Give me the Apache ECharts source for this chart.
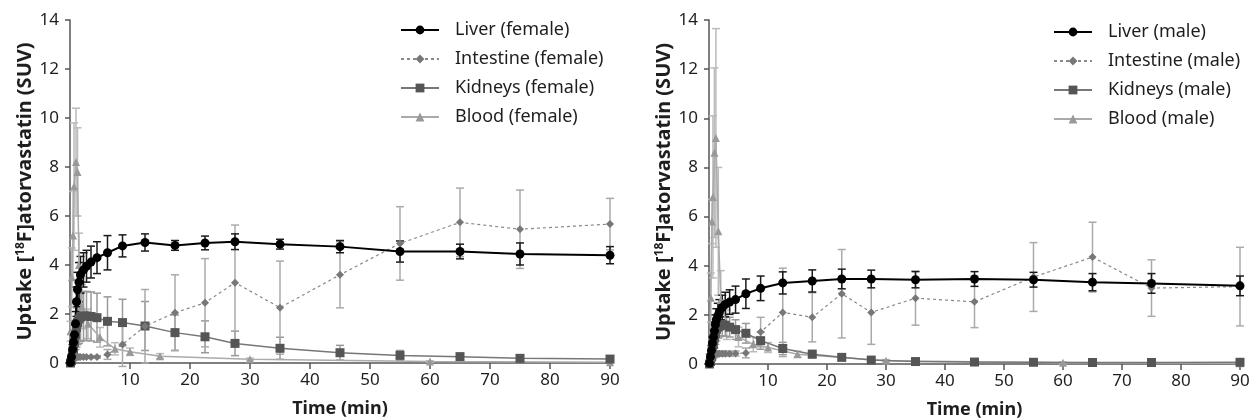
<!DOCTYPE html>
<html>
<head>
<meta charset="utf-8">
<script src="https://cdn.jsdelivr.net/npm/echarts@6/dist/echarts.min.js"></script>
<style>
html,body{margin:0;padding:0;background:#fff;}
#chart{width:1254px;height:419px;}
</style>
</head>
<body>
<div id="chart"></div>
<script>
// Frame mid-times (min) for organ curves
const organTimes = [0.08, 0.25, 0.42, 0.58, 0.75, 0.92, 1.08, 1.25, 1.5, 1.75, 2.25, 2.75, 3.5, 4.5, 6.25, 8.75, 12.5, 17.5, 22.5, 27.5, 35, 45, 55, 65, 75, 90];

// Female
const liverF      = [0.02, 0.25, 0.55, 0.85, 1.15, 1.6, 2.5, 3.0, 3.3, 3.6, 3.8, 3.95, 4.12, 4.3, 4.5, 4.78, 4.92, 4.8, 4.9, 4.95, 4.85, 4.75, 4.55, 4.55, 4.45, 4.4];
const liverFErr   = [0.05, 0.1, 0.2, 0.3, 0.4, 0.5, 0.6, 0.7, 0.8, 0.75, 0.7, 0.65, 0.65, 0.65, 0.7, 0.45, 0.35, 0.2, 0.28, 0.32, 0.2, 0.25, 0.43, 0.3, 0.45, 0.35];
const intestineF    = [0.0, 0.05, 0.1, 0.15, 0.2, 0.22, 0.24, 0.25, 0.25, 0.25, 0.25, 0.25, 0.24, 0.25, 0.35, 0.76, 1.5, 2.05, 2.46, 3.28, 2.26, 3.6, 4.88, 5.74, 5.46, 5.67];
const intestineFErr = [0.02, 0.03, 0.05, 0.05, 0.05, 0.05, 0.05, 0.05, 0.05, 0.05, 0.05, 0.05, 0.05, 0.05, 0.2, 0.9, 1.5, 1.55, 1.8, 2.35, 1.9, 1.35, 1.5, 1.4, 1.6, 1.05];
const kidneysF    = [0.0, 0.1, 0.3, 0.55, 0.85, 1.15, 1.45, 1.65, 1.8, 1.88, 1.92, 1.92, 1.9, 1.85, 1.7, 1.65, 1.51, 1.24, 1.07, 0.8, 0.6, 0.42, 0.31, 0.26, 0.19, 0.16];
const kidneysFErr = [0.05, 0.1, 0.2, 0.3, 0.5, 0.6, 0.8, 0.9, 1.0, 1.0, 1.0, 1.0, 1.0, 1.0, 1.0, 0.95, 1.0, 0.72, 0.65, 0.5, 0.45, 0.3, 0.2, 0.12, 0.1, 0.1];
const bloodTimesF = [0.08, 0.3, 0.5, 0.67, 1.0, 1.25, 1.5, 2.0, 3.0, 5, 7.5, 10, 15, 30, 60, 90];
const bloodF      = [1.3, 3.5, 5.2, 7.2, 8.2, 7.8, 4.0, 2.3, 1.6, 1.05, 0.58, 0.46, 0.28, 0.15, 0.06, 0.03];
const bloodFErr   = [0.4, 1.2, 1.8, 2.6, 2.2, 1.8, 1.3, 0.9, 0.6, 0.4, 0.25, 0.15, 0.1, 0.05, 0.03, 0.02];

// Male
const liverM      = [0.03, 0.3, 0.55, 0.85, 1.1, 1.35, 1.6, 1.8, 1.97, 2.12, 2.3, 2.42, 2.52, 2.62, 2.86, 3.08, 3.3, 3.38, 3.46, 3.46, 3.43, 3.46, 3.43, 3.33, 3.28, 3.18];
const liverMErr   = [0.05, 0.1, 0.2, 0.25, 0.3, 0.35, 0.4, 0.45, 0.5, 0.5, 0.5, 0.5, 0.5, 0.55, 0.6, 0.5, 0.45, 0.45, 0.4, 0.36, 0.33, 0.3, 0.3, 0.35, 0.4, 0.4];
const intestineM    = [0.0, 0.05, 0.15, 0.25, 0.33, 0.38, 0.4, 0.42, 0.42, 0.42, 0.42, 0.42, 0.42, 0.43, 0.45, 1.3, 2.1, 1.9, 2.86, 2.1, 2.68, 2.53, 3.54, 4.35, 3.09, 3.15];
const intestineMErr = [0.02, 0.03, 0.05, 0.08, 0.1, 0.1, 0.1, 0.1, 0.1, 0.1, 0.1, 0.1, 0.1, 0.1, 0.2, 0.6, 1.8, 1.0, 1.8, 1.3, 1.1, 1.05, 1.4, 1.42, 1.15, 1.6];
const kidneysM    = [0.0, 0.1, 0.3, 0.55, 0.8, 1.05, 1.25, 1.4, 1.5, 1.55, 1.6, 1.58, 1.5, 1.4, 1.25, 0.95, 0.63, 0.4, 0.27, 0.16, 0.1, 0.08, 0.07, 0.06, 0.06, 0.07];
const kidneysMErr = [0.05, 0.1, 0.2, 0.3, 0.35, 0.4, 0.45, 0.45, 0.45, 0.45, 0.45, 0.45, 0.4, 0.4, 0.4, 0.35, 0.25, 0.15, 0.1, 0.05, 0.05, 0.04, 0.04, 0.03, 0.03, 0.03];
const bloodTimesM = [0.08, 0.3, 0.5, 0.67, 0.92, 1.17, 1.58, 2.0, 3.0, 5, 7.5, 10, 15, 30, 60, 90];
const bloodM      = [0.2, 2.7, 5.8, 6.8, 8.6, 9.2, 5.4, 2.6, 1.6, 1.1, 0.8, 0.67, 0.4, 0.13, 0.05, 0.03];
const bloodMErr   = [0.2, 1.0, 0.9, 3.3, 3.45, 4.45, 2.6, 1.2, 0.6, 0.4, 0.3, 0.2, 0.12, 0.05, 0.03, 0.02];

const xTicks = [10, 20, 30, 40, 50, 60, 70, 80, 90];
const yTicks = [0, 2, 4, 6, 8, 10, 12, 14];

const legendF = ['Liver (female)', 'Intestine (female)', 'Kidneys (female)', 'Blood (female)'];
const legendM = ['Liver (male)', 'Intestine (male)', 'Kidneys (male)', 'Blood (male)'];

const FONT = 'Noto Sans';
const TXT = '#1e1e1e';

function pts(t, v) { return t.map((x, i) => [x, v[i]]); }
function errPts(t, v, e) { return t.map((x, i) => [x, v[i] - e[i], v[i] + e[i]]); }

function errSeries(name, gi, data, color, w) {
  return {
    type: 'custom', name: name, xAxisIndex: gi, yAxisIndex: gi,
    data: data, encode: { x: 0, y: [1, 2] }, silent: true, clip: false,
    renderItem: function (params, api) {
      const x = api.value(0), lo = api.value(1), hi = api.value(2);
      const a = api.coord([x, hi]), b = api.coord([x, lo]);
      const h = 4;
      const st = { stroke: color, lineWidth: w };
      return { type: 'group', children: [
        { type: 'line', shape: { x1: a[0], y1: a[1], x2: b[0], y2: b[1] }, style: st },
        { type: 'line', shape: { x1: a[0] - h, y1: a[1], x2: a[0] + h, y2: a[1] }, style: st },
        { type: 'line', shape: { x1: b[0] - h, y1: b[1], x2: b[0] + h, y2: b[1] }, style: st }
      ]};
    }
  };
}

const styles = {
  liver:     { symbol: 'circle',   size: 9,  color: '#000', line: { color: '#000', width: 2 }, err: '#1a1a1a', ew: 1.5 },
  intestine: { symbol: 'diamond',  size: 8,  color: '#777', line: { color: '#888', width: 1.2, type: [3, 3] }, err: '#aaa', ew: 1.5 },
  kidneys:   { symbol: 'rect',     size: 9,  color: '#555', line: { color: '#777', width: 1.5 }, err: '#999', ew: 1.5 },
  blood:     { symbol: 'triangle', size: 8,  color: '#999', line: { color: '#aaa', width: 1.5 }, err: '#bbb', ew: 1.5 }
};

function lineSeries(name, gi, data, s) {
  return {
    type: 'line', name: name, xAxisIndex: gi, yAxisIndex: gi, data: data,
    symbol: s.symbol, symbolSize: s.size, showAllSymbol: true,
    itemStyle: { color: s.color },
    lineStyle: s.line, emphasis: { disabled: true }
  };
}

function xAxis(gi) {
  return {
    type: 'value', gridIndex: gi, min: 0, max: 90, interval: 10,
    name: 'Time (min)', nameLocation: 'middle', nameGap: 37,
    nameTextStyle: { fontFamily: FONT, fontSize: 18, fontWeight: 'bold', color: TXT },
    axisLine: { lineStyle: { color: '#555', width: 1.5 } },
    axisTick: { length: 6, lineStyle: { color: '#555', width: 1.5 }, customValues: xTicks },
    axisLabel: { fontFamily: FONT, fontSize: 17, color: TXT, margin: 9, customValues: xTicks },
    splitLine: { show: false }
  };
}
function yAxis(gi) {
  return {
    type: 'value', gridIndex: gi, min: 0, max: 14, interval: 2,
    name: '{t|Uptake [}{s|18}{t|F]atorvastatin (SUV)}', nameLocation: 'middle', nameGap: 31, nameRotate: 90,
    nameTextStyle: { fontFamily: FONT, color: TXT, rich: {
      t: { fontFamily: FONT, fontSize: 20, fontWeight: 'bold', color: TXT, lineHeight: 22 },
      s: { fontFamily: FONT, fontSize: 12, fontWeight: 'bold', color: TXT, verticalAlign: 'top', lineHeight: 13 }
    } },
    axisLine: { show: true, lineStyle: { color: '#555', width: 1.5 } },
    axisTick: { show: true, length: 5, lineStyle: { color: '#555', width: 1.5 } },
    axisLabel: { fontFamily: FONT, fontSize: 17, color: TXT, margin: 11 },
    splitLine: { show: false }
  };
}
function legend(left, top, names) {
  return {
    orient: 'vertical', left: left, top: top, data: names,
    itemWidth: 38, itemHeight: 11, itemGap: 11, selectedMode: false,
    textStyle: { fontFamily: FONT, fontSize: 18, color: TXT, lineHeight: 18, padding: [0, 0, 0, 11] }
  };
}

const series = [];
function addSet(gi, names, liver, liverE, intes, intesE, kid, kidE, bt, blood, bloodE) {
  series.push(errSeries('err-blood-' + gi, gi, errPts(bt, blood, bloodE), styles.blood.err, styles.blood.ew));
  series.push(lineSeries(names[3], gi, pts(bt, blood), styles.blood));
  series.push(errSeries('err-kid-' + gi, gi, errPts(organTimes, kid, kidE), styles.kidneys.err, styles.kidneys.ew));
  series.push(lineSeries(names[2], gi, pts(organTimes, kid), styles.kidneys));
  series.push(errSeries('err-int-' + gi, gi, errPts(organTimes, intes, intesE), styles.intestine.err, styles.intestine.ew));
  series.push(lineSeries(names[1], gi, pts(organTimes, intes), styles.intestine));
  series.push(errSeries('err-liv-' + gi, gi, errPts(organTimes, liver, liverE), styles.liver.err, styles.liver.ew));
  series.push(lineSeries(names[0], gi, pts(organTimes, liver), styles.liver));
}
addSet(0, legendF, liverF, liverFErr, intestineF, intestineFErr, kidneysF, kidneysFErr, bloodTimesF, bloodF, bloodFErr);
addSet(1, legendM, liverM, liverMErr, intestineM, intestineMErr, kidneysM, kidneysMErr, bloodTimesM, bloodM, bloodMErr);

const chart = echarts.init(document.getElementById('chart'), null, { renderer: 'canvas' });
chart.setOption({
  animation: false,
  backgroundColor: '#fff',
  grid: [
    { left: 70, right: 644, top: 20, bottom: 56, outerBoundsMode: 'none', containLabel: false },
    { left: 709, right: 14, top: 20, bottom: 55, outerBoundsMode: 'none', containLabel: false }
  ],
  xAxis: [xAxis(0), xAxis(1)],
  yAxis: [yAxis(0), yAxis(1)],
  legend: [legend(395, 16, legendF), legend(1048, 18, legendM)],
  series: series
});
</script>
</body>
</html>
